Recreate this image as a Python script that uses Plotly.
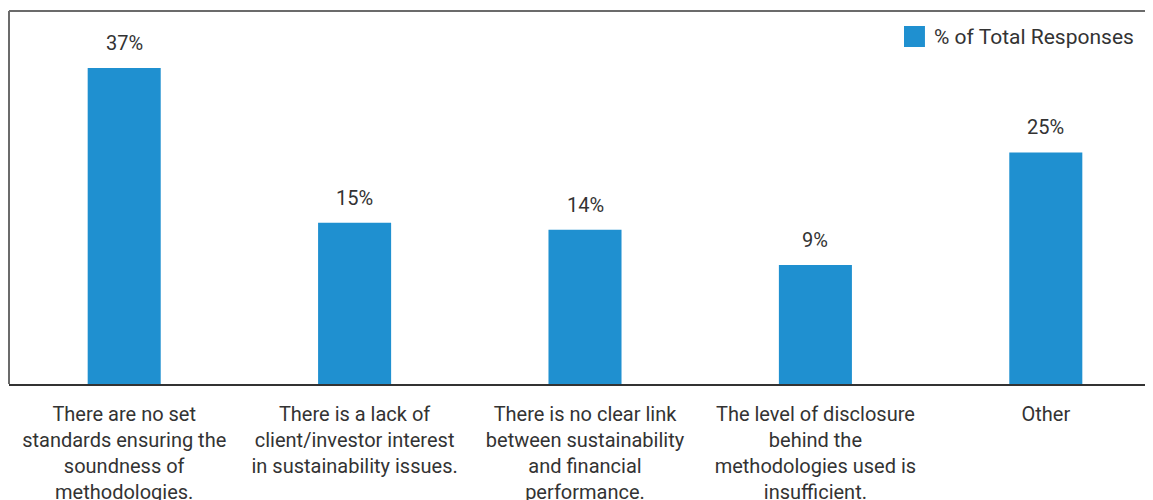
import plotly.graph_objects as go

categories = [
    "There are no set<br>standards ensuring the<br>soundness of<br>methodologies.",
    "There is a lack of<br>client/investor interest<br>in sustainability issues.",
    "There is no clear link<br>between sustainability<br>and financial<br>performance.",
    "The level of disclosure<br>behind the<br>methodologies used is<br>insufficient.",
    "Other",
]
values = [37, 15, 14, 9, 25]
value_labels = ["37%", "15%", "14%", "9%", "25%"]
series_name = "% of Total Responses"

AXIS_FLOOR = -7.91
AXIS_TOP = 45.1
BAR_COLOR = "#1f90d0"
TEXT_COLOR = "#333333"
FONT = "Roboto"

xs = list(range(len(categories)))

fig = go.Figure()
fig.add_trace(go.Bar(
    x=xs,
    y=[v - AXIS_FLOOR for v in values],
    base=AXIS_FLOOR,
    marker=dict(color=BAR_COLOR, line=dict(width=0)),
    name=series_name,
    showlegend=False,
    hoverinfo="skip",
))

for x, v, t in zip(xs, values, value_labels):
    fig.add_annotation(
        x=x, y=v, text=t, showarrow=False,
        xanchor="center", yanchor="middle", yshift=25,
        font=dict(family=FONT, size=20, color=TEXT_COLOR),
    )

# manual legend
fig.add_shape(type="rect", xref="paper", yref="paper",
              x0=0.7769, x1=0.7951, y0=0.9035, y1=0.9598,
              fillcolor=BAR_COLOR, line=dict(width=0))
fig.add_annotation(xref="paper", yref="paper", x=0.8012, y=0.930,
                   text=series_name, showarrow=False,
                   xanchor="left", yanchor="middle",
                   font=dict(family=FONT, size=21, color=TEXT_COLOR))

# frame lines (left and top)
fig.add_shape(type="line", xref="paper", yref="paper", x0=0, x1=0, y0=0, y1=1,
              line=dict(color="#6b6b6b", width=2))
fig.add_shape(type="line", xref="paper", yref="paper", x0=0, x1=1, y0=1, y1=1,
              line=dict(color="#6b6b6b", width=2))

fig.update_layout(
    width=1153, height=500,
    margin=dict(l=1, r=0, t=3, b=124, pad=0),
    paper_bgcolor="white", plot_bgcolor="white",
    bargap=0.683,
    font=dict(family=FONT, size=20, color=TEXT_COLOR),
    xaxis=dict(
        tickmode="array", tickvals=xs, ticktext=categories,
        range=[-0.5, 4.5], showgrid=False, zeroline=False,
        showline=True, linecolor="#333333", linewidth=2,
        ticks="", ticklabelstandoff=11, automargin=False,
        tickfont=dict(family=FONT, size=20, color=TEXT_COLOR),
    ),
    yaxis=dict(
        range=[AXIS_FLOOR, AXIS_TOP], showgrid=False, zeroline=False,
        showticklabels=False, showline=False, ticks="", automargin=False,
    ),
)

fig.write_html("out.html")
